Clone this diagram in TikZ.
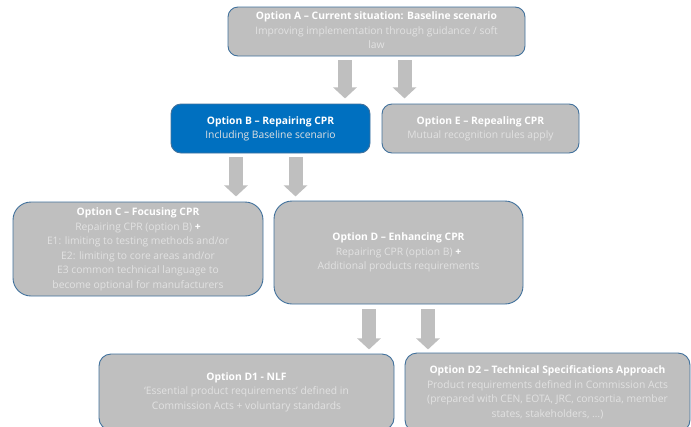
\documentclass[tikz,border=0pt]{standalone}
\usepackage{fontspec}
\setmainfont{Open Sans}
\usetikzlibrary{arrows.meta,calc}
\definecolor{boxgray}{HTML}{BFBFBF}
\definecolor{boxline}{HTML}{41719C}
\definecolor{bodytxt}{HTML}{E2E2E2}
\definecolor{boxblue}{HTML}{0070C0}
\definecolor{arrowgray}{HTML}{BFBFBF}
\newcommand{\ttl}[1]{{\color{white}\bfseries #1}}
\newcommand{\bdy}[1]{{\color{bodytxt}#1}}
\newcommand{\stack}[1]{\begin{tabular}{@{}c@{}}#1\end{tabular}}
\tikzset{
  x=1pt, y=-1pt,
  optbox/.style={draw=boxline, line width=0.9pt, fill=boxgray, rounded corners=10pt,
    text=bodytxt, inner sep=2pt,
    font=\fontsize{10.3pt}{14.5pt}\selectfont},
  bluebox/.style={optbox, fill=boxblue},
  blockarrow/.style={draw=arrowgray, line width=14pt,
    -{Triangle[width=23pt,length=11pt]}},
}
\begin{document}
\begin{tikzpicture}
\useasboundingbox (0,0) rectangle (691,426);
\clip (0,0) rectangle (691,426);
\node[optbox, minimum width=297pt, minimum height=49pt] (A) at (376.5,31.5)
  {\stack{\ttl{Option A -- Current situation: Baseline scenario}\\
   \bdy{Improving implementation through guidance / soft}\\ \bdy{law}}};
\node[bluebox, minimum width=199pt, minimum height=49pt] (B) at (270.5,128.5)
  {\stack{\ttl{Option B -- Repairing CPR}\\ \bdy{Including Baseline scenario}}};
\node[optbox, minimum width=197pt, minimum height=49pt] (E) at (480.5,128.5)
  {\stack{\ttl{Option E -- Repealing CPR}\\ \bdy{Mutual recognition rules apply}}};
\node[optbox, rounded corners=18pt, minimum width=250pt, minimum height=94pt] (C) at (138,249)
  {\stack{\ttl{Option C -- Focusing CPR}\\
   \bdy{Repairing CPR (option B)} \ttl{+}\\
   \bdy{E1: limiting to testing methods and/or}\\
   \bdy{E2: limiting to core areas and/or}\\
   \bdy{E3 common technical language to}\\
   \bdy{become optional for manufacturers}}};
\node[optbox, rounded corners=18pt, minimum width=249pt, minimum height=103pt] (D) at (398.5,252.5)
  {\stack{\ttl{Option D -- Enhancing CPR}\\
   \bdy{Repairing CPR (option B)} \ttl{+}\\
   \bdy{Additional products requirements}}};
\node[optbox, rounded corners=12pt, minimum width=295pt, minimum height=76pt] (D1) at (246.5,392)
  {\stack{\ttl{Option D1 - NLF}\\
   \bdy{`Essential product requirements' defined in}\\
   \bdy{Commission Acts + voluntary standards}}};
\node[optbox, rounded corners=12pt, minimum width=285pt, minimum height=79pt] (D2) at (547.5,392.5)
  {\stack{\ttl{Option D2 -- Technical Specifications Approach}\\
   \bdy{Product requirements defined in Commission Acts}\\
   \bdy{(prepared with CEN, EOTA, JRC, consortia, member}\\
   \bdy{states, stakeholders, \dots)}}};
% arrows
\draw[blockarrow] ($(A.south)+(-31.5,4)$) -- ($(A.south)+(-31.5,42)$);
\draw[blockarrow] ($(A.south)+(28,4)$) -- ($(A.south)+(28,42)$);
\draw[blockarrow] ($(B.south)+(-34.5,4)$) -- ($(B.south)+(-34.5,43)$);
\draw[blockarrow] ($(B.south)+(25,4)$) -- ($(B.south)+(25,43)$);
\draw[blockarrow] ($(D.south)+(-29.5,5)$) -- ($(D.south)+(-29.5,45)$);
\draw[blockarrow] ($(D.south)+(29.5,5)$) -- ($(D.south)+(29.5,45)$);
\end{tikzpicture}
\end{document}
